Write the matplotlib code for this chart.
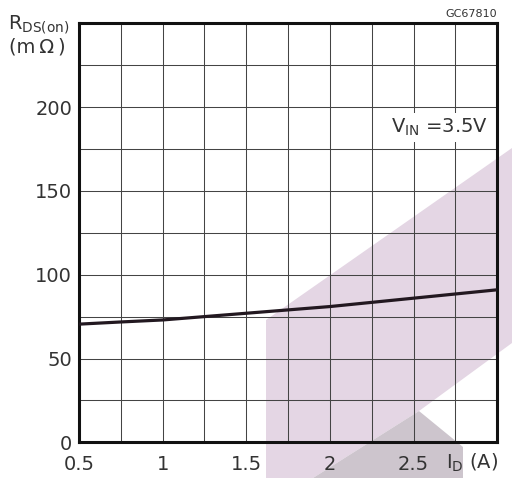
import matplotlib
matplotlib.use("Agg")
import matplotlib.pyplot as plt
from matplotlib.patches import Polygon
from matplotlib.ticker import MultipleLocator

# drain current (A) vs on-resistance (mOhm)
id_amp = [0.5, 0.75, 1.0, 1.25, 1.5, 1.75, 2.0, 2.25, 2.5, 2.75, 3.0]
rds_on = [70.5, 71.8, 73.0, 75.0, 77.0, 79.0, 81.0, 83.5, 86.0, 88.5, 91.0]

x_ticks = [0.5, 1.0, 1.5, 2.0, 2.5]
x_tick_labels = ["0.5", "1", "1.5", "2", "2.5"]
y_ticks = [0, 50, 100, 150, 200]
y_tick_labels = ["0", "50", "100", "150", "200"]

W, H = 512, 478
fig = plt.figure(figsize=(W / 100, H / 100), dpi=100)
fig.patch.set_facecolor("white")
txt_col = "#333333"

def px(x, y):
    # pixel -> figure fraction
    return (x / W, 1 - y / H)

# watermark shapes in the background
purple = [px(266, 478), px(266, 320), px(512, 148), px(512, 343), px(419, 411), px(313, 478)]
gray = [px(313, 478), px(419, 411), px(463, 447), px(463, 478)]
fig.patches.append(Polygon(purple, closed=True, transform=fig.transFigure,
                           facecolor="#e4d6e4", edgecolor="none", zorder=-2))
fig.patches.append(Polygon(gray, closed=True, transform=fig.transFigure,
                           facecolor="#cdc5cd", edgecolor="none", zorder=-1))

ax = fig.add_axes([79 / W, 1 - 442.3 / H, (497.3 - 79) / W, (442.3 - 23.3) / H])
ax.set_facecolor("none")

ax.plot(id_amp, rds_on, color="#221820", lw=2.3, solid_capstyle="butt", zorder=3)

ax.set_xlim(0.5, 3.0)
ax.set_ylim(0, 250)
ax.set_xticks(x_ticks, x_tick_labels)
ax.set_yticks(y_ticks, y_tick_labels)
ax.xaxis.set_minor_locator(MultipleLocator(0.25))
ax.yaxis.set_minor_locator(MultipleLocator(25))
ax.grid(True, which="both", color="#444444", lw=0.75)
ax.set_axisbelow(True)
ax.tick_params(which="both", length=0)
ax.tick_params(axis="x", pad=9, labelsize=14, labelcolor=txt_col)
ax.tick_params(axis="y", pad=5, labelsize=14, labelcolor=txt_col)
for s in ax.spines.values():
    s.set_linewidth(2.2)
    s.set_color("#111111")

# axis titles as free text, like in the datasheet
fig.text(*px(8, 29), r"R$_{\rm DS(on)}$", fontsize=14, va="baseline", ha="left", color=txt_col)
fig.text(*px(37, 47), "(m\u2009Ω\u2009)", fontsize=14, va="center", ha="center", color=txt_col)
fig.text(*px(446, 469), r"I$_{\rm D}$ (A)", fontsize=14, va="baseline", ha="left", color=txt_col)
fig.text(*px(497, 17), "GC67810", fontsize=8, va="baseline", ha="right", color=txt_col)
fig.text(*px(488, 133), r"V$_{\rm IN}$ =3.5V", fontsize=14, va="baseline", ha="right", color=txt_col,
         bbox=dict(facecolor="white", edgecolor="none", pad=3), zorder=4)

fig.savefig("out.png", dpi=100)
